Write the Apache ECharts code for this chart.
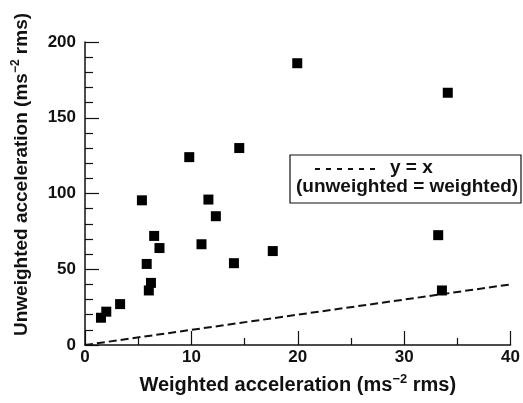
<!DOCTYPE html>
<html>
<head>
<meta charset="utf-8">
<script src="https://cdn.jsdelivr.net/npm/echarts@6/dist/echarts.min.js"></script>
<style>
  html, body { margin: 0; padding: 0; background: #fff; }
  #chart { width: 523px; height: 403px; }
</style>
</head>
<body>
<div id="chart"></div>
<script>
// weighted (x) vs unweighted (y) acceleration, ms-2 rms
var weighted = [1.5, 2.0, 3.3, 5.35, 5.8, 6.0, 6.2, 6.5, 7.0, 9.8, 10.95, 11.6, 12.3, 14.0, 14.5, 17.65, 19.95, 33.2, 33.55, 34.1];
var unweighted = [18, 22, 27, 95.5, 53.5, 36, 41, 72, 64, 124, 66.5, 96, 85, 54, 130, 62, 186, 72.5, 36, 166.5];
// reference line y = x
var identityLine = [[0, 0], [40, 40]];

var xTicks = { min: 0, max: 40, interval: 10 };
var yTicks = { min: 0, max: 200, interval: 50 };

var font = '"Liberation Sans", Arial, sans-serif';
var ink = '#111';

var points = weighted.map(function (w, i) { return [w, unweighted[i]]; });

var chart = echarts.init(document.getElementById('chart'));

var option = {
    animation: false,
    backgroundColor: '#fff',
    grid: { left: 85, right: 12, top: 42, bottom: 58 },
    xAxis: {
        type: 'value',
        min: xTicks.min, max: xTicks.max, interval: xTicks.interval,
        name: '{a|Weighted acceleration (ms}{s|−2}{a| rms)}',
        nameLocation: 'middle',
        nameGap: 28,
        nameTextStyle: {
            rich: {
                a: { fontFamily: font, fontSize: 20, fontWeight: 'bold', color: ink },
                s: { fontFamily: font, fontSize: 13, fontWeight: 'bold', color: ink, padding: [0, 0, 12, 0] }
            }
        },
        axisLine: { lineStyle: { color: ink, width: 1.5 } },
        axisTick: { show: true, inside: true, length: 14, lineStyle: { color: ink, width: 1.2 } },
        minorTick: { show: true, splitNumber: 2, length: 7, lineStyle: { color: ink, width: 1.2 } },
        axisLabel: { fontFamily: font, fontSize: 17, fontWeight: 'bold', color: ink, margin: 4 },
        splitLine: { show: false }
    },
    yAxis: {
        type: 'value',
        min: yTicks.min, max: yTicks.max, interval: yTicks.interval,
        name: '{a|Unweighted acceleration (ms}{s|−2}{a| rms)}',
        nameLocation: 'middle',
        nameRotate: 90,
        nameGap: 51,
        nameTextStyle: {
            padding: [0, 0, 0, 38],
            rich: {
                a: { fontFamily: font, fontSize: 19, fontWeight: 'bold', color: ink },
                s: { fontFamily: font, fontSize: 12, fontWeight: 'bold', color: ink, padding: [0, 0, 12, 0] }
            }
        },
        axisLine: { show: true, lineStyle: { color: ink, width: 1.5 } },
        axisTick: { show: true, inside: true, length: 14, lineStyle: { color: ink, width: 1.2 } },
        minorTick: { show: true, splitNumber: 5, length: 8, lineStyle: { color: ink, width: 1.2 } },
        axisLabel: { fontFamily: font, fontSize: 17, fontWeight: 'bold', color: ink, margin: 9 },
        splitLine: { show: false }
    },
    graphic: [
        {
            type: 'rect',
            shape: { x: 290, y: 155, width: 231, height: 48 },
            style: { fill: '#fff', stroke: ink, lineWidth: 1.2 },
            z: 10
        },
        {
            type: 'line',
            shape: { x1: 315, y1: 169, x2: 381, y2: 169 },
            style: { stroke: ink, lineWidth: 2, lineDash: [5, 6] },
            z: 11
        },
        {
            type: 'text',
            left: 390, top: 158,
            style: { text: 'y = x', fontFamily: font, fontSize: 19, fontWeight: 'bold', fill: ink },
            z: 11
        },
        {
            type: 'text',
            left: 296, top: 177,
            style: { text: '(unweighted = weighted)', fontFamily: font, fontSize: 19, fontWeight: 'bold', fill: ink },
            z: 11
        }
    ],
    series: [
        {
            name: 'y = x',
            type: 'line',
            data: identityLine,
            symbol: 'none',
            lineStyle: { color: ink, width: 2, type: [8, 4] },
            z: 2
        },
        {
            name: 'subjects',
            type: 'scatter',
            data: points,
            symbol: 'rect',
            symbolSize: 10,
            itemStyle: { color: '#000', opacity: 1 },
            z: 3
        }
    ]
};

chart.setOption(option);
</script>
</body>
</html>
